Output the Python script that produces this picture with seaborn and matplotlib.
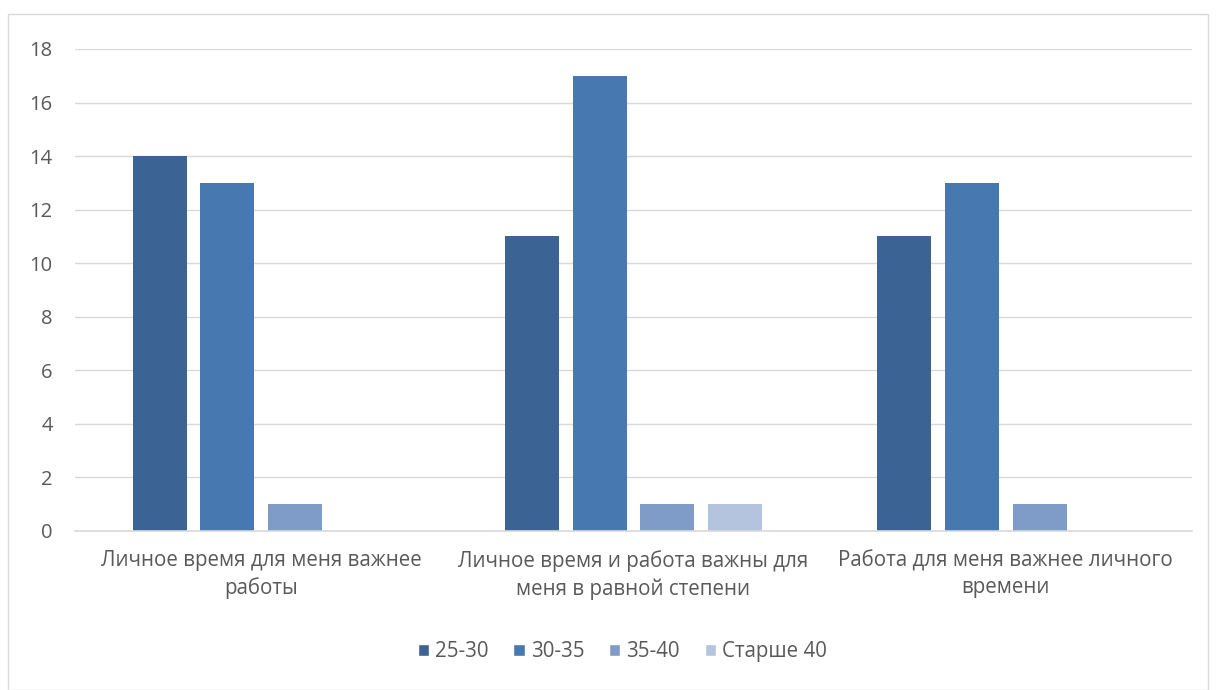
import matplotlib
matplotlib.use("Agg")
import matplotlib.pyplot as plt
import seaborn as sns
import pandas as pd
from matplotlib.patches import Rectangle

categories = ["Личное время для меня важнее\nработы",
              "Личное время и работа важны для\nменя в равной степени",
              "Работа для меня важнее личного\nвремени"]
series_names = ["25-30", "30-35", "35-40", "Старше 40"]
v_25_30 = [14, 11, 11]
v_30_35 = [13, 17, 13]
v_35_40 = [1, 1, 1]
v_40plus = [0, 1, 0]
colors = ["#3B6494", "#4878B0", "#7F9CC8", "#B4C4DF"]

rows = []
for name, vals in zip(series_names, [v_25_30, v_30_35, v_35_40, v_40plus]):
    for c, v in zip(categories, vals):
        rows.append({"cat": c, "group": name, "value": v})
df = pd.DataFrame(rows)

sns.set_theme(style="white")
plt.rcParams['font.family'] = ['Open Sans', 'DejaVu Sans']

fig = plt.figure(figsize=(12.16, 6.9), dpi=100)
ax = fig.add_axes([75/1216, 159/690, (1192-75)/1216, (531-49)/690])

total_w = 0.726
sns.barplot(data=df, x="cat", y="value", hue="group", hue_order=series_names,
            order=categories, palette=colors, width=total_w, ax=ax,
            saturation=1, errorbar=None, legend=True)

bw = 0.145
for p in ax.patches:
    if p.get_width() > 0 and p.get_width() < 0.5:
        cx = p.get_x() + p.get_width() / 2
        p.set_width(bw)
        p.set_x(cx - bw / 2)
        p.set_edgecolor("none")

ax.set_ylim(0, 18)
ax.set_xlim(-0.5, 2.5)
ax.set_yticks(range(0, 19, 2))
ax.yaxis.grid(True, color="#D9D9D9", linewidth=1)
ax.set_axisbelow(True)
for s in ["left", "right", "top"]:
    ax.spines[s].set_visible(False)
ax.spines["bottom"].set_color("#D9D9D9")
ax.spines["bottom"].set_linewidth(1.2)
ax.set_xlabel("")
ax.set_ylabel("")
ax.tick_params(axis="y", length=0, pad=16, labelsize=14.5, labelcolor="#595959")
ax.tick_params(axis="x", length=0, pad=14, labelsize=14.8, labelcolor="#595959")
for t in ax.get_xticklabels():
    t.set_linespacing(1.35)

handles, labels = ax.get_legend_handles_labels()
leg = ax.legend(handles, labels, loc="upper center", bbox_to_anchor=(0.49, -0.19),
                ncol=4, frameon=False, fontsize=14.8, handlelength=0.55, handleheight=0.55,
                handletextpad=0.3, columnspacing=1.2, labelcolor="#595959")

fig.patches.append(Rectangle((8/1216, 0), 1200/1216, (690-14)/690,
                             transform=fig.transFigure, fill=False,
                             edgecolor="#D9D9D9", linewidth=1))

fig.savefig("out.png", dpi=100)
